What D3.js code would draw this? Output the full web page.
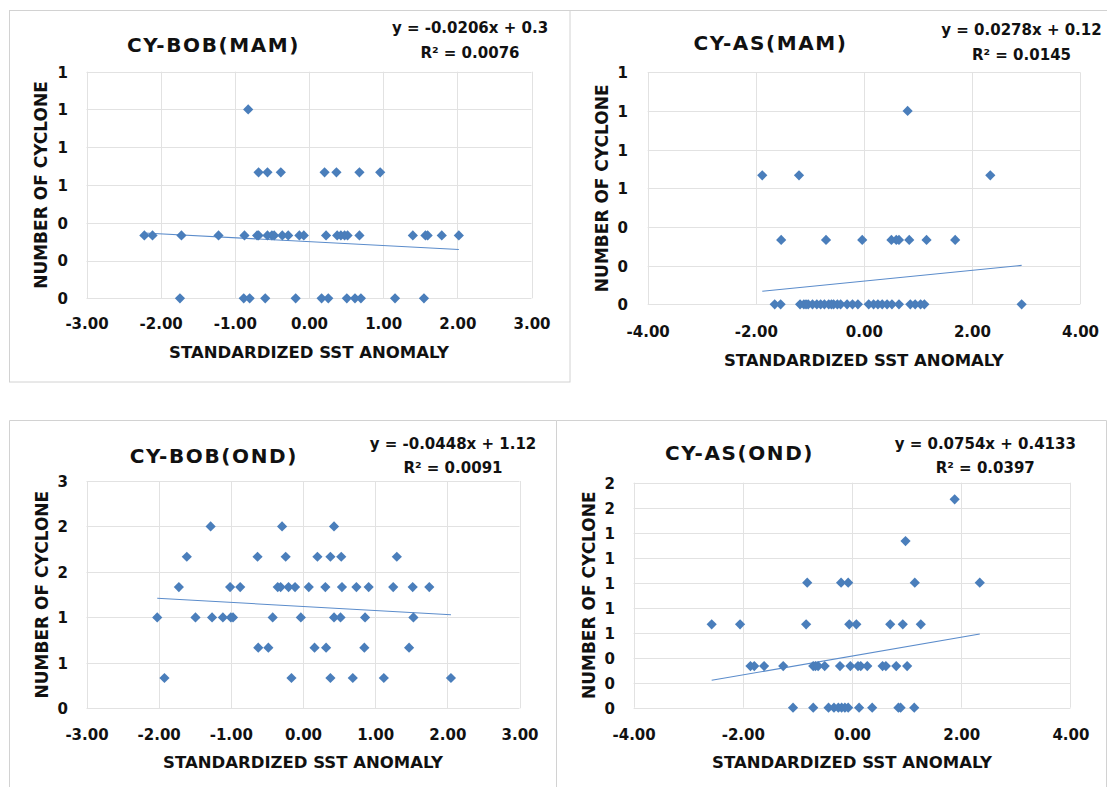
<!DOCTYPE html>
<html>
<head>
<meta charset="utf-8">
<script src="https://cdn.jsdelivr.net/npm/d3@7"></script>
<style>
  body { margin: 0; background: #fff; }
  svg { display: block; font-family: "DejaVu Sans", sans-serif; font-weight: bold; }
  text { fill: #111; }
</style>
</head>
<body>
<svg width="1107" height="787"></svg>
<script>
// valores: [anomalia SST padronizada, número de ciclones]
const bobMamPoints = [
  [-2.22, 0.333], [-2.11, 0.333], [-1.72, 0.333], [-1.22, 0.333], [-0.87, 0.333], [-0.70, 0.333], [-0.68, 0.333],
  [-0.56, 0.333], [-0.50, 0.333], [-0.47, 0.333], [-0.36, 0.333], [-0.28, 0.333], [-0.13, 0.333], [-0.07, 0.333],
  [0.23, 0.333], [0.38, 0.333], [0.43, 0.333], [0.48, 0.333], [0.52, 0.333], [0.68, 0.333], [1.40, 0.333],
  [1.57, 0.333], [1.60, 0.333], [1.79, 0.333], [2.02, 0.333],
  [-0.68, 0.667], [-0.56, 0.667], [-0.38, 0.667], [0.21, 0.667], [0.37, 0.667], [0.68, 0.667], [0.96, 0.667],
  [-0.82, 1],
  [-1.74, 0], [-0.88, 0], [-0.80, 0], [-0.59, 0], [-0.18, 0], [0.17, 0], [0.26, 0], [0.51, 0], [0.62, 0],
  [0.70, 0], [1.16, 0], [1.55, 0]
];

const asMamPoints = [
  [-1.65, 0], [-1.54, 0], [-1.18, 0], [-1.11, 0], [-1.07, 0], [-1.03, 0], [-0.95, 0], [-0.87, 0], [-0.80, 0],
  [-0.73, 0], [-0.65, 0], [-0.60, 0], [-0.56, 0], [-0.49, 0], [-0.43, 0], [-0.31, 0], [-0.21, 0], [-0.11, 0],
  [0.09, 0], [0.18, 0], [0.26, 0], [0.34, 0], [0.43, 0], [0.52, 0], [0.65, 0], [0.86, 0], [0.95, 0], [1.05, 0],
  [1.12, 0], [2.92, 0],
  [-1.53, 0.333], [-0.70, 0.333], [-0.03, 0.333], [0.51, 0.333], [0.60, 0.333], [0.65, 0.333], [0.84, 0.333],
  [1.16, 0.333], [1.69, 0.333],
  [-1.88, 0.667], [-1.20, 0.667], [2.34, 0.667],
  [0.81, 1]
];

const bobOndPoints = [
  [-1.28, 2], [-0.29, 2], [0.43, 2],
  [-1.61, 1.667], [-0.63, 1.667], [-0.24, 1.667], [0.20, 1.667], [0.38, 1.667], [0.53, 1.667], [1.30, 1.667],
  [-1.72, 1.333], [-1.01, 1.333], [-0.87, 1.333], [-0.35, 1.333], [-0.31, 1.333], [-0.20, 1.333], [-0.11, 1.333],
  [0.08, 1.333], [0.31, 1.333], [0.54, 1.333], [0.74, 1.333], [0.91, 1.333], [1.25, 1.333], [1.52, 1.333],
  [1.75, 1.333],
  [-2.02, 1], [-1.49, 1], [-1.26, 1], [-1.11, 1], [-1.00, 1], [-0.97, 1], [-0.42, 1], [-0.03, 1], [0.43, 1],
  [0.52, 1], [0.86, 1], [1.53, 1],
  [-0.62, 0.667], [-0.48, 0.667], [0.16, 0.667], [0.32, 0.667], [0.85, 0.667], [1.47, 0.667],
  [-1.92, 0.333], [-0.16, 0.333], [0.38, 0.333], [0.69, 0.333], [1.12, 0.333], [2.05, 0.333]
];

const asOndPoints = [
  [-1.08, 0], [-0.71, 0], [-0.43, 0], [-0.33, 0], [-0.25, 0], [-0.19, 0], [-0.13, 0], [-0.07, 0], [0.13, 0],
  [0.37, 0], [0.85, 0], [0.89, 0], [1.14, 0],
  [-1.86, 0.333], [-1.79, 0.333], [-1.61, 0.333], [-1.26, 0.333], [-0.71, 0.333], [-0.67, 0.333], [-0.62, 0.333],
  [-0.50, 0.333], [-0.22, 0.333], [-0.03, 0.333], [0.11, 0.333], [0.16, 0.333], [0.28, 0.333], [0.56, 0.333],
  [0.62, 0.333], [0.81, 0.333], [1.01, 0.333],
  [-2.57, 0.667], [-2.05, 0.667], [-0.84, 0.667], [-0.05, 0.667], [0.08, 0.667], [0.70, 0.667], [0.93, 0.667],
  [1.26, 0.667],
  [-0.82, 1], [-0.20, 1], [-0.07, 1], [1.15, 1], [2.34, 1],
  [0.98, 1.333],
  [1.88, 1.667]
];

// títulos, equações das linhas de tendência
const panelTitles = ["CY-BOB(MAM)", "CY-AS(MAM)", "CY-BOB(OND)", "CY-AS(OND)"];
const trendSlopes = [-0.0206, 0.0278, -0.0448, 0.0754];
const trendIntercepts = [0.3, 0.12, 1.12, 0.4133];
const trendEquations = ["y = -0.0206x + 0.3", "y = 0.0278x + 0.12", "y = -0.0448x + 1.12", "y = 0.0754x + 0.4133"];
const trendR2 = ["R² = 0.0076", "R² = 0.0145", "R² = 0.0091", "R² = 0.0397"];

// ticks
const xTicks3 = [-3, -2, -1, 0, 1, 2, 3];
const xLabels3 = ["-3.00", "-2.00", "-1.00", "0.00", "1.00", "2.00", "3.00"];
const xTicks4 = [-4, -2, 0, 2, 4];
const xLabels4 = ["-4.00", "-2.00", "0.00", "2.00", "4.00"];
const yTicksMam = [0, 0.2, 0.4, 0.6, 0.8, 1.0, 1.2];
const yLabelsMam = ["0", "0", "0", "1", "1", "1", "1"];
const yTicksBobOnd = [0, 0.5, 1, 1.5, 2, 2.5];
const yLabelsBobOnd = ["0", "1", "1", "2", "2", "3"];
const yTicksAsOnd = [0, 0.2, 0.4, 0.6, 0.8, 1.0, 1.2, 1.4, 1.6, 1.8];
const yLabelsAsOnd = ["0", "0", "0", "1", "1", "1", "1", "1", "2", "2"];

const xTitle = "STANDARDIZED SST ANOMALY";
const yTitle = "NUMBER OF CYCLONE";

const svg = d3.select("svg");
const blue = "#4a7ebb";
const gridColor = "#e2e2e2";
const borderColor = "#d2d2d2";

//Molduras dos quatro gráficos
const frame = svg.append("g").attr("fill", "none").attr("stroke", borderColor);
frame.append("rect").attr("x", 9.5).attr("y", 10.5).attr("width", 560.5).attr("height", 371.5);
frame.append("line").attr("x1", 570).attr("x2", 1107).attr("y1", 10.5).attr("y2", 10.5);
frame.append("path").attr("d", "M9.5,790V420.5H556.5V790");
frame.append("path").attr("d", "M556.5,420.5H1106.5V790");

const panels = [
  { points: bobMamPoints, box: [86.5, 531.5, 71.7, 298.3], xDom: [-3, 3], yDom: [0, 1.2],
    xTicks: xTicks3, xLabels: xLabels3, yTicks: yTicksMam, yLabels: yLabelsMam,
    titleAt: [213.5, 51.7], eqAt: [470, 33, 58], yLabRight: 68, xLabBase: 329, xTitleBase: 358, yTitleX: 47 },
  { points: asMamPoints, box: [647.7, 1080, 72.3, 304.3], xDom: [-4, 4], yDom: [0, 1.2],
    xTicks: xTicks4, xLabels: xLabels4, yTicks: yTicksMam, yLabels: yLabelsMam,
    titleAt: [770.5, 50], eqAt: [1021.5, 35, 59.5], yLabRight: 628, xLabBase: 337, xTitleBase: 366, yTitleX: 607.5 },
  { points: bobOndPoints, box: [86.5, 519.5, 481, 708.3], xDom: [-3, 3], yDom: [0, 2.5],
    xTicks: xTicks3, xLabels: xLabels3, yTicks: yTicksBobOnd, yLabels: yLabelsBobOnd,
    titleAt: [213.8, 462.7], eqAt: [453, 449, 473], yLabRight: 68, xLabBase: 740, xTitleBase: 768, yTitleX: 48 },
  { points: asOndPoints, box: [633.6, 1070.4, 482.7, 707.7], xDom: [-4, 4], yDom: [0, 1.8],
    xTicks: xTicks4, xLabels: xLabels4, yTicks: yTicksAsOnd, yLabels: yLabelsAsOnd,
    titleAt: [739.6, 460], eqAt: [985.3, 449, 473], yLabRight: 615, xLabBase: 740, xTitleBase: 768, yTitleX: 594.5 }
];

const diamond = d3.symbol(d3.symbolSquare, 52);

panels.forEach((p, i) => {
  const [x0, x1, y0, y1] = p.box;
  const x = d3.scaleLinear().domain(p.xDom).range([x0, x1]);
  const y = d3.scaleLinear().domain(p.yDom).range([y1, y0]);
  const g = svg.append("g");

  //Linhas de grade
  g.append("g").selectAll("line").data(p.yTicks).join("line")
    .attr("x1", x0).attr("x2", x1)
    .attr("y1", d => Math.round(y(d)) + 0.5).attr("y2", d => Math.round(y(d)) + 0.5)
    .attr("stroke", gridColor);
  g.append("g").selectAll("line").data(p.xTicks).join("line")
    .attr("y1", y0).attr("y2", y1)
    .attr("x1", d => Math.round(x(d)) + 0.5).attr("x2", d => Math.round(x(d)) + 0.5)
    .attr("stroke", gridColor);

  //Eixos sem linha, só os rótulos
  const xAxis = g.append("g")
    .attr("transform", `translate(0,${p.xLabBase})`)
    .call(d3.axisBottom(x).tickValues(p.xTicks).tickSize(0).tickPadding(0)
      .tickFormat((d, k) => p.xLabels[k]));
  xAxis.select(".domain").remove();
  xAxis.selectAll("text").attr("dy", 0).attr("y", 0)
    .style("font-size", "15px").style("font-family", "DejaVu Sans").style("font-weight", "bold").attr("fill", "#111");

  const yAxis = g.append("g")
    .attr("transform", `translate(${p.yLabRight},0)`)
    .call(d3.axisLeft(y).tickValues(p.yTicks).tickSize(0).tickPadding(0)
      .tickFormat((d, k) => p.yLabels[k]));
  yAxis.select(".domain").remove();
  yAxis.selectAll("text").attr("x", 0).attr("dy", "0.36em")
    .style("font-size", "15px").style("font-family", "DejaVu Sans").style("font-weight", "bold").attr("fill", "#111");

  //Linha de tendência entre o menor e o maior x
  const ext = d3.extent(p.points, d => d[0]);
  const fit = ext.map(v => [v, trendSlopes[i] * v + trendIntercepts[i]]);
  g.append("path")
    .datum(fit)
    .attr("fill", "none")
    .attr("stroke", "#5b8ccb")
    .attr("stroke-width", 1.1)
    .attr("d", d3.line().x(d => x(d[0])).y(d => y(d[1])));

  //Marcadores em losango
  g.append("g").selectAll("path").data(p.points).join("path")
    .attr("d", diamond)
    .attr("transform", d => `translate(${x(d[0])},${y(d[1])}) rotate(45)`)
    .attr("fill", blue);

  //Títulos e equação
  g.append("text")
    .attr("x", p.titleAt[0]).attr("y", p.titleAt[1])
    .attr("text-anchor", "middle")
    .style("font-size", "20px").style("letter-spacing", "1.6px")
    .text(panelTitles[i]);

  g.append("text")
    .attr("x", p.eqAt[0]).attr("y", p.eqAt[1])
    .attr("text-anchor", "middle").style("font-size", "15px")
    .text(trendEquations[i]);
  g.append("text")
    .attr("x", p.eqAt[0]).attr("y", p.eqAt[2])
    .attr("text-anchor", "middle").style("font-size", "15px")
    .text(trendR2[i]);

  g.append("text")
    .attr("x", (x0 + x1) / 2).attr("y", p.xTitleBase)
    .attr("text-anchor", "middle").style("font-size", "16.5px")
    .text(xTitle);

  g.append("text")
    .attr("transform", `translate(${p.yTitleX},${(y0 + y1) / 2}) rotate(-90)`)
    .attr("text-anchor", "middle").style("font-size", "17px")
    .text(yTitle);
});
</script>
</body>
</html>
